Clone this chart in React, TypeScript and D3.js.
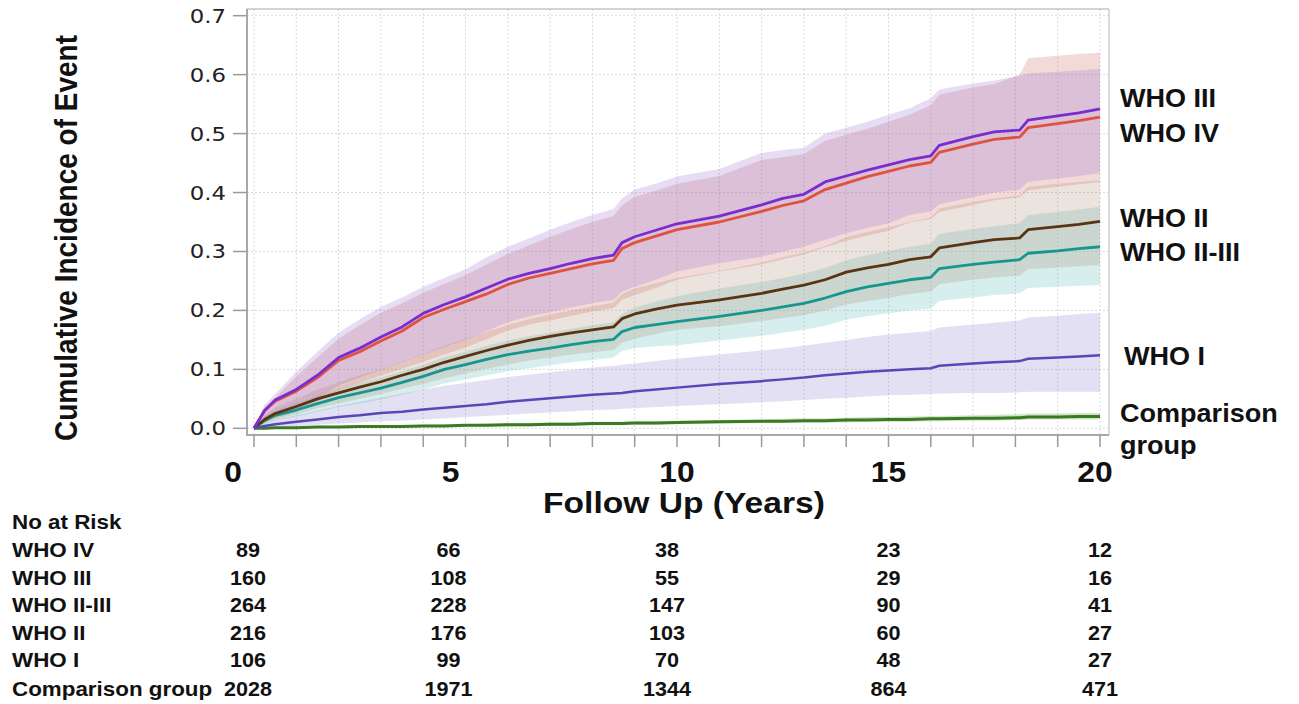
import React from "react";
import * as d3 from "d3";

// ---------------- data ----------------
const TIMES = [0, 0.25, 0.5, 1, 1.5, 2, 2.5, 3, 3.5, 4, 4.5, 5, 5.5, 6, 6.5, 7, 7.5, 8, 8.5, 8.7, 9, 9.5, 10, 11, 12, 12.5, 13, 13.5, 14, 14.5, 15, 15.5, 16, 16.2, 17, 17.5, 18.1, 18.3, 19, 19.5, 20];

const WHO_III = [0, 0.03, 0.048, 0.066, 0.09, 0.12, 0.136, 0.155, 0.172, 0.195, 0.21, 0.223, 0.238, 0.253, 0.263, 0.271, 0.28, 0.288, 0.294, 0.315, 0.325, 0.336, 0.347, 0.36, 0.379, 0.39, 0.397, 0.418, 0.428, 0.438, 0.447, 0.456, 0.462, 0.48, 0.495, 0.503, 0.506, 0.523, 0.53, 0.535, 0.542];
const WHO_III_UP = [0, 0.04, 0.058, 0.096, 0.13, 0.162, 0.185, 0.206, 0.222, 0.24, 0.255, 0.27, 0.29, 0.308, 0.322, 0.337, 0.35, 0.362, 0.372, 0.39, 0.405, 0.415, 0.427, 0.44, 0.467, 0.472, 0.476, 0.5, 0.51, 0.52, 0.532, 0.543, 0.56, 0.575, 0.585, 0.59, 0.598, 0.602, 0.605, 0.607, 0.61];
const WHO_III_LO = [0, 0.012, 0.02, 0.032, 0.05, 0.073, 0.086, 0.099, 0.112, 0.125, 0.138, 0.15, 0.165, 0.18, 0.19, 0.197, 0.205, 0.212, 0.218, 0.232, 0.24, 0.252, 0.266, 0.28, 0.291, 0.3, 0.308, 0.32, 0.331, 0.34, 0.348, 0.362, 0.368, 0.38, 0.392, 0.4, 0.405, 0.418, 0.424, 0.428, 0.433];

const WHO_IV = [0, 0.03, 0.046, 0.063, 0.086, 0.115, 0.13, 0.148, 0.165, 0.188, 0.202, 0.215, 0.228, 0.244, 0.255, 0.263, 0.271, 0.279, 0.285, 0.305, 0.315, 0.326, 0.337, 0.35, 0.368, 0.378, 0.386, 0.405, 0.416, 0.427, 0.436, 0.445, 0.451, 0.468, 0.482, 0.49, 0.494, 0.51, 0.517, 0.522, 0.528];
const WHO_IV_UP = [0, 0.036, 0.052, 0.088, 0.12, 0.152, 0.175, 0.196, 0.212, 0.23, 0.245, 0.26, 0.278, 0.296, 0.31, 0.325, 0.338, 0.35, 0.36, 0.378, 0.393, 0.403, 0.415, 0.428, 0.455, 0.46, 0.465, 0.488, 0.498, 0.508, 0.52, 0.532, 0.548, 0.566, 0.578, 0.584, 0.6, 0.628, 0.632, 0.635, 0.637];
const WHO_IV_LO = [0, 0.01, 0.017, 0.028, 0.045, 0.065, 0.077, 0.089, 0.101, 0.113, 0.125, 0.137, 0.151, 0.166, 0.176, 0.183, 0.191, 0.198, 0.204, 0.218, 0.226, 0.238, 0.252, 0.266, 0.278, 0.287, 0.295, 0.307, 0.318, 0.327, 0.335, 0.349, 0.355, 0.367, 0.379, 0.387, 0.392, 0.404, 0.41, 0.414, 0.418];

const WHO_II = [0, 0.015, 0.025, 0.037, 0.05, 0.06, 0.07, 0.079, 0.09, 0.1, 0.112, 0.122, 0.132, 0.141, 0.149, 0.156, 0.162, 0.167, 0.172, 0.186, 0.194, 0.202, 0.209, 0.218, 0.229, 0.236, 0.243, 0.252, 0.265, 0.272, 0.278, 0.286, 0.291, 0.306, 0.315, 0.32, 0.323, 0.337, 0.342, 0.346, 0.351];
const WHO_II_UP = [0, 0.022, 0.035, 0.05, 0.066, 0.078, 0.09, 0.1, 0.113, 0.126, 0.14, 0.152, 0.164, 0.175, 0.185, 0.193, 0.2, 0.207, 0.213, 0.228, 0.237, 0.246, 0.255, 0.267, 0.281, 0.29, 0.298, 0.309, 0.324, 0.333, 0.341, 0.35, 0.357, 0.373, 0.384, 0.39, 0.395, 0.41, 0.415, 0.418, 0.421];
const WHO_II_LO = [0, 0.008, 0.015, 0.024, 0.034, 0.042, 0.05, 0.058, 0.067, 0.075, 0.085, 0.093, 0.101, 0.108, 0.115, 0.12, 0.125, 0.129, 0.133, 0.145, 0.152, 0.16, 0.167, 0.173, 0.182, 0.187, 0.192, 0.2, 0.21, 0.216, 0.221, 0.228, 0.232, 0.245, 0.252, 0.256, 0.259, 0.27, 0.273, 0.275, 0.277];

const WHO_II_III = [0, 0.013, 0.022, 0.031, 0.042, 0.052, 0.06, 0.068, 0.078, 0.088, 0.1, 0.108, 0.117, 0.125, 0.131, 0.136, 0.142, 0.147, 0.151, 0.164, 0.171, 0.176, 0.181, 0.19, 0.2, 0.206, 0.212, 0.221, 0.232, 0.24, 0.246, 0.252, 0.256, 0.271, 0.278, 0.282, 0.286, 0.297, 0.301, 0.305, 0.308];
const WHO_II_III_UP = [0, 0.02, 0.03, 0.042, 0.055, 0.067, 0.077, 0.086, 0.097, 0.108, 0.121, 0.13, 0.14, 0.149, 0.156, 0.162, 0.169, 0.175, 0.18, 0.194, 0.205, 0.215, 0.224, 0.237, 0.248, 0.255, 0.262, 0.272, 0.285, 0.294, 0.301, 0.308, 0.313, 0.33, 0.338, 0.343, 0.348, 0.362, 0.367, 0.371, 0.376];
const WHO_II_III_LO = [0, 0.007, 0.013, 0.02, 0.028, 0.036, 0.042, 0.049, 0.057, 0.066, 0.076, 0.083, 0.09, 0.097, 0.102, 0.107, 0.112, 0.116, 0.12, 0.131, 0.136, 0.139, 0.141, 0.149, 0.157, 0.162, 0.167, 0.174, 0.184, 0.19, 0.195, 0.2, 0.203, 0.216, 0.222, 0.226, 0.229, 0.238, 0.24, 0.242, 0.243];

const WHO_I = [0, 0.004, 0.007, 0.011, 0.015, 0.019, 0.022, 0.026, 0.028, 0.032, 0.035, 0.038, 0.041, 0.045, 0.048, 0.051, 0.054, 0.057, 0.059, 0.06, 0.063, 0.066, 0.069, 0.075, 0.08, 0.083, 0.086, 0.09, 0.093, 0.096, 0.098, 0.1, 0.102, 0.106, 0.11, 0.112, 0.114, 0.118, 0.12, 0.122, 0.124];
const WHO_I_UP = [0, 0.008, 0.014, 0.022, 0.03, 0.038, 0.045, 0.052, 0.059, 0.066, 0.072, 0.077, 0.082, 0.087, 0.091, 0.095, 0.099, 0.103, 0.106, 0.108, 0.11, 0.114, 0.118, 0.125, 0.132, 0.136, 0.14, 0.145, 0.15, 0.155, 0.159, 0.162, 0.165, 0.171, 0.176, 0.179, 0.183, 0.188, 0.191, 0.194, 0.196];
const WHO_I_LO = [0, 0.001, 0.002, 0.004, 0.006, 0.008, 0.01, 0.012, 0.013, 0.015, 0.017, 0.019, 0.021, 0.023, 0.025, 0.027, 0.029, 0.031, 0.032, 0.033, 0.034, 0.036, 0.038, 0.041, 0.044, 0.046, 0.048, 0.05, 0.052, 0.054, 0.056, 0.057, 0.058, 0.059, 0.06, 0.06, 0.061, 0.062, 0.062, 0.062, 0.062];

const COMPARISON = [0, 0, 0.001, 0.001, 0.002, 0.002, 0.003, 0.003, 0.003, 0.004, 0.004, 0.005, 0.005, 0.006, 0.006, 0.007, 0.007, 0.008, 0.008, 0.008, 0.009, 0.009, 0.01, 0.011, 0.012, 0.012, 0.013, 0.013, 0.014, 0.014, 0.015, 0.015, 0.016, 0.016, 0.017, 0.017, 0.018, 0.019, 0.019, 0.02, 0.02];
const COMPARISON_UP = [0, 0.001, 0.002, 0.002, 0.003, 0.004, 0.005, 0.005, 0.006, 0.006, 0.007, 0.007, 0.008, 0.009, 0.009, 0.01, 0.01, 0.011, 0.011, 0.011, 0.012, 0.012, 0.013, 0.014, 0.015, 0.016, 0.017, 0.017, 0.018, 0.019, 0.019, 0.02, 0.021, 0.021, 0.022, 0.023, 0.024, 0.025, 0.025, 0.026, 0.026];
const COMPARISON_LO = [0, 0, 0, 0, 0.001, 0.001, 0.001, 0.001, 0.001, 0.002, 0.002, 0.003, 0.003, 0.003, 0.003, 0.004, 0.004, 0.005, 0.005, 0.005, 0.006, 0.006, 0.007, 0.008, 0.009, 0.009, 0.01, 0.01, 0.01, 0.011, 0.011, 0.011, 0.012, 0.012, 0.013, 0.013, 0.014, 0.015, 0.015, 0.015, 0.015];

const Y_TICKS = [0, 0.1, 0.2, 0.3, 0.4, 0.5, 0.6, 0.7];
const X_MINOR_TICKS = d3.range(0, 21, 1);
const X_LABELS = [0, 5, 10, 15, 20];

const RISK_TIMES = [0, 5, 10, 15, 20];
const RISK_GROUPS = ["WHO IV", "WHO III", "WHO II-III", "WHO II", "WHO I", "Comparison group"];
const RISK_WHO_IV = [89, 66, 38, 23, 12];
const RISK_WHO_III = [160, 108, 55, 29, 16];
const RISK_WHO_II_III = [264, 228, 147, 90, 41];
const RISK_WHO_II = [216, 176, 103, 60, 27];
const RISK_WHO_I = [106, 99, 70, 48, 27];
const RISK_COMPARISON = [2028, 1971, 1344, 864, 471];

// ---------------- styling ----------------
const SERIES = [
  { name: "Comparison group", line: COMPARISON, up: COMPARISON_UP, lo: COMPARISON_LO, color: "#3b7a22", band: "#439b23", w: 3 },
  { name: "WHO I", line: WHO_I, up: WHO_I_UP, lo: WHO_I_LO, color: "#5548b8", band: "#8b83cb", w: 2.5 },
  { name: "WHO II-III", line: WHO_II_III, up: WHO_II_III_UP, lo: WHO_II_III_LO, color: "#15978f", band: "#5bbbbb", w: 2.8 },
  { name: "WHO II", line: WHO_II, up: WHO_II_UP, lo: WHO_II_LO, color: "#5a3412", band: "#af8f77", w: 2.8 },
  { name: "WHO IV", line: WHO_IV, up: WHO_IV_UP, lo: WHO_IV_LO, color: "#e0523e", band: "#cb6b63", w: 2.8 },
  { name: "WHO III", line: WHO_III, up: WHO_III_UP, lo: WHO_III_LO, color: "#7a2cd0", band: "#9b73d3", w: 2.8 },
];

const RISK_ROWS = [RISK_WHO_IV, RISK_WHO_III, RISK_WHO_II_III, RISK_WHO_II, RISK_WHO_I, RISK_COMPARISON];

const END_LABELS = [
  { text: "WHO III", x: 1120, y: 107 },
  { text: "WHO IV", x: 1120, y: 142 },
  { text: "WHO II", x: 1120, y: 227 },
  { text: "WHO II-III", x: 1120, y: 261 },
  { text: "WHO I", x: 1124, y: 365 },
  { text: "Comparison", x: 1120, y: 422 },
  { text: "group", x: 1120, y: 454 },
];

const BOLD = "'Liberation Sans', Arial, Helvetica, sans-serif";
const TICKFONT = "'DejaVu Sans', Verdana, sans-serif";

function T({ x, y, sx = 1, anchor = "start", size, weight = 700, family = BOLD, fill = "#111", children }: any) {
  return (
    <text
      transform={`translate(${x},${y}) scale(${sx},1)`}
      textAnchor={anchor}
      fontSize={size}
      fontWeight={weight}
      fontFamily={family}
      fill={fill}
    >
      {children}
    </text>
  );
}

export default function App() {
  const W = 1299;
  const H = 704;
  const x = d3.scaleLinear().domain([0, 20]).range([254, 1100]);
  const y = d3.scaleLinear().domain([0, 0.7]).range([428.3, 15.7]);
  const frame = { l: 247, r: 1109, t: 9, b: 435 };

  const line = (vals: number[]) =>
    d3.line<number>().x((_, i) => x(TIMES[i])).y((v) => y(v)).curve(d3.curveLinear)(vals) || "";
  const area = (lo: number[], up: number[]) =>
    d3
      .area<number>()
      .x((_, i) => x(TIMES[i]))
      .y0((_, i) => y(lo[i]))
      .y1((_, i) => y(up[i]))
      .curve(d3.curveLinear)(TIMES) || "";

  const xLabelNudge = [-21, -15, 0, 0, -5];
  const riskNudge = [-6, -17, -10, 0, 0];
  const riskRowY = [557, 584.5, 612, 639.5, 667, 696];

  return (
    <svg width={W} height={H} style={{ position: "absolute", left: 0, top: 0, background: "#fff" }}>
      <rect x={0} y={0} width={W} height={H} fill="#fff" />
      {/* grid */}
      <g stroke="#d9d9d9" strokeWidth={1} strokeDasharray="2,2">
        {X_MINOR_TICKS.map((t) => (
          <line key={"gx" + t} x1={x(t)} x2={x(t)} y1={frame.t} y2={frame.b} />
        ))}
        {Y_TICKS.map((v) => (
          <line key={"gy" + v} x1={frame.l} x2={frame.r} y1={y(v)} y2={y(v)} />
        ))}
      </g>
      {/* bands */}
      <g>
        {SERIES.map((s) => (
          <path key={"b" + s.name} d={area(s.lo, s.up)} fill={s.band} fillOpacity={0.25} stroke="none" />
        ))}
      </g>
      {/* lines */}
      <g fill="none" strokeLinejoin="round">
        {SERIES.map((s) => (
          <path key={"l" + s.name} d={line(s.line)} stroke={s.color} strokeWidth={s.w} />
        ))}
      </g>
      {/* frame */}
      <line x1={frame.l} x2={frame.r} y1={frame.t} y2={frame.t} stroke="#c4c4c4" strokeWidth={1.5} />
      <line x1={frame.r} x2={frame.r} y1={frame.t} y2={frame.b} stroke="#cfcfcf" strokeWidth={1.5} />
      <line x1={frame.l} x2={frame.l} y1={frame.t} y2={frame.b + 1} stroke="#a8a8a8" strokeWidth={2} />
      <line x1={frame.l} x2={frame.r} y1={frame.b} y2={frame.b} stroke="#a8a8a8" strokeWidth={2} />
      {/* y ticks */}
      <g>
        {Y_TICKS.map((v) => (
          <g key={"yt" + v}>
            <line x1={233} x2={frame.l} y1={y(v)} y2={y(v)} stroke="#9a9a9a" strokeWidth={1.5} />
            <T x={226} y={y(v) + 7} sx={1.2} anchor="end" size={19} weight={400} family={TICKFONT} fill="#222">
              {v.toFixed(1)}
            </T>
          </g>
        ))}
      </g>
      {/* x ticks */}
      <g>
        {X_MINOR_TICKS.map((t) => (
          <line key={"xt" + t} x1={x(t)} x2={x(t)} y1={frame.b} y2={frame.b + 12} stroke="#9a9a9a" strokeWidth={1.5} />
        ))}
        {X_LABELS.map((t, i) => (
          <T key={"xl" + t} x={x(t) + xLabelNudge[i]} y={482} sx={1.06} anchor="middle" size={30}>
            {t}
          </T>
        ))}
      </g>
      {/* axis titles */}
      <T x={684} y={513} sx={1.12} anchor="middle" size={30}>
        Follow Up (Years)
      </T>
      <text
        transform="translate(77,238) scale(1.12,1) rotate(-90)"
        textAnchor="middle"
        fontSize={28}
        fontWeight={700}
        fontFamily={BOLD}
        fill="#111"
      >
        Cumulative Incidence of Event
      </text>
      {/* end labels */}
      {END_LABELS.map((l) => (
        <T key={"el" + l.text} x={l.x} y={l.y} sx={1.04} size={26}>
          {l.text}
        </T>
      ))}
      {/* risk table */}
      <T x={12} y={529} sx={1.12} size={20}>
        No at Risk
      </T>
      {RISK_GROUPS.map((g, r) => (
        <g key={"rg" + g}>
          <T x={12} y={riskRowY[r]} sx={1.12} size={20}>
            {g}
          </T>
          {RISK_TIMES.map((t, c) => (
            <T key={"rc" + t} x={x(t) + riskNudge[c]} y={riskRowY[r]} sx={1.08} anchor="middle" size={20}>
              {RISK_ROWS[r][c]}
            </T>
          ))}
        </g>
      ))}
    </svg>
  );
}
